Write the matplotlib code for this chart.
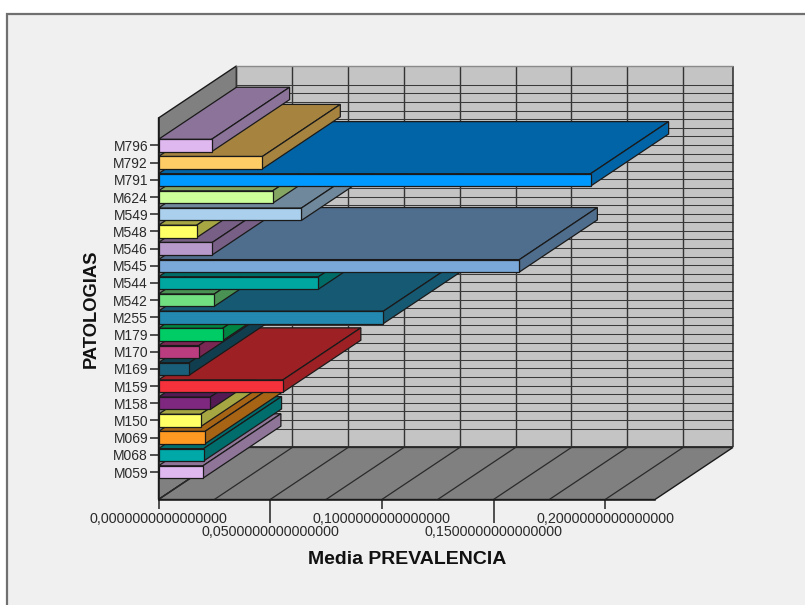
import matplotlib
matplotlib.use("Agg")
import matplotlib.pyplot as plt
from matplotlib.patches import Polygon, Rectangle

plt.rcParams['font.family'] = ['Liberation Sans', 'DejaVu Sans']

# Mean prevalence per pathology, listed from the bottom of the axis upward
categories = ["M059", "M068", "M069", "M150", "M158", "M159", "M169", "M170", "M179", "M255",
              "M542", "M544", "M545", "M546", "M548", "M549", "M624", "M791", "M792", "M796"]
values = [0.0199, 0.0202, 0.0208, 0.0189, 0.0232, 0.0557, 0.0138, 0.0181, 0.0287, 0.1007,
          0.0250, 0.0716, 0.1616, 0.0241, 0.0171, 0.0640, 0.0511, 0.1935, 0.0465, 0.0238]
front_colors = ["#E0B8F0", "#00A8A8", "#FF9922", "#FFFF66", "#7F287F", "#F5323C", "#1A5F7A",
                "#BB3D80", "#00CC66", "#2389B0", "#70E080", "#00A6A0", "#7AA8D8", "#B899CC",
                "#FFFF66", "#ABD0EE", "#CCFF99", "#0099FF", "#FFCC66", "#E0B8F0"]
shade_colors = ["#8F7699", "#006D6D", "#A66414", "#A6A642", "#531A53", "#9C2024", "#113E4F",
                "#7A2853", "#008542", "#165973", "#499253", "#006C68", "#4F6D8C", "#785F85",
                "#A6A642", "#70889B", "#85A663", "#0064A6", "#A68440", "#8C7399"]

major_ticks = [0.0, 0.10, 0.20]
major_labels = ["0,0000000000000000", "0,1000000000000000", "0,2000000000000000"]
minor_ticks = [0.05, 0.15]
minor_labels = ["0,0500000000000000", "0,1500000000000000"]
grid_step = 0.025
grid_count = 9

W, H = 805, 605
X_MAX = 0.2223
Y_MIN, Y_MAX = -1.6, 20.6
DEPTH_X = 0.0349   # oblique projection offset, in value units
DEPTH_Y = 3.03     # oblique projection offset, in category units
BAR_H = 0.72
EDGE = "#1a1a1a"
TEXT = "#2a2a2a"

fig = plt.figure(figsize=(W / 100, H / 100), dpi=100, facecolor="white")

# Grey chart panel with its dark frame, open towards the right and bottom edges
fig.patches.append(Rectangle((6.5 / W, -0.02), 1.0, 1 - 13.5 / H + 0.02, transform=fig.transFigure,
                             facecolor="#F0F0F0", edgecolor="#707070", linewidth=1.6, zorder=-1))

ax = fig.add_axes([158.5 / W, (H - 499.5) / H, 496.5 / W, 381.5 / H])
ax.patch.set_visible(False)
ax.set_xlim(0, X_MAX)
ax.set_ylim(Y_MIN, Y_MAX)


def add_poly(points, face, edge=EDGE, lw=0.9, z=1):
    ax.add_patch(Polygon(points, closed=True, facecolor=face, edgecolor=edge, linewidth=lw,
                         zorder=z, clip_on=False, joinstyle="miter"))


def add_line(xs, ys, color="#2a2a2a", lw=1.0, z=1.5):
    ax.plot(xs, ys, color=color, lw=lw, zorder=z, clip_on=False, solid_capstyle="butt")


# Back wall, side wall and floor of the 3D box
add_poly([(DEPTH_X, Y_MIN + DEPTH_Y), (X_MAX + DEPTH_X, Y_MIN + DEPTH_Y),
          (X_MAX + DEPTH_X, Y_MAX + DEPTH_Y), (DEPTH_X, Y_MAX + DEPTH_Y)], "#C4C4C4", edge="none")
add_poly([(0, Y_MIN), (0, Y_MAX), (DEPTH_X, Y_MAX + DEPTH_Y), (DEPTH_X, Y_MIN + DEPTH_Y)], "#808080",
         lw=1.0)
add_poly([(0, Y_MIN), (X_MAX, Y_MIN), (X_MAX + DEPTH_X, Y_MIN + DEPTH_Y), (DEPTH_X, Y_MIN + DEPTH_Y)],
         "#808080", lw=1.0)

# Gridlines on the back wall and floor
for k in range(grid_count):
    gx = k * grid_step
    add_line([gx + DEPTH_X] * 2, [Y_MIN + DEPTH_Y, Y_MAX + DEPTH_Y], color="#333333", lw=1.0)
    add_line([gx, gx + DEPTH_X], [Y_MIN, Y_MIN + DEPTH_Y], lw=0.9)
for k in range(2 * len(categories) + 1):
    gy = -0.5 + k / 2 + DEPTH_Y
    add_line([DEPTH_X, X_MAX + DEPTH_X], [gy, gy], color="#3a3a3a", lw=0.75)
add_line([X_MAX + DEPTH_X] * 2, [Y_MIN + DEPTH_Y, Y_MAX + DEPTH_Y], lw=1.1)
add_line([DEPTH_X, X_MAX + DEPTH_X], [Y_MAX + DEPTH_Y] * 2, color="#8a8a8a", lw=1.0)
add_line([DEPTH_X, X_MAX + DEPTH_X], [Y_MIN + DEPTH_Y] * 2, lw=1.3)

# Bars from the bottom category upward, so each one overlaps the top of the one below
for i, (val, front, shade) in enumerate(zip(values, front_colors, shade_colors)):
    z = 3 + i
    lo, hi = i - BAR_H / 2, i + BAR_H / 2
    add_poly([(0, hi), (val, hi), (val + DEPTH_X, hi + DEPTH_Y), (DEPTH_X, hi + DEPTH_Y)], shade, z=z)
    add_poly([(val, lo), (val, hi), (val + DEPTH_X, hi + DEPTH_Y), (val + DEPTH_X, lo + DEPTH_Y)], shade, z=z)
    ax.barh(i, val, height=BAR_H, color=front, edgecolor=EDGE, linewidth=0.9, zorder=z + 0.5, clip_on=False)

# Axes, ticks and labels
for side in ("top", "right"):
    ax.spines[side].set_visible(False)
for side in ("left", "bottom"):
    ax.spines[side].set_color("#1a1a1a")
    ax.spines[side].set_linewidth(1.1)
    ax.spines[side].set_zorder(40)

ax.set_yticks(range(len(categories)), categories)
ax.set_xticks(major_ticks, major_labels)
ax.set_xticks(minor_ticks, minor_labels, minor=True)
ax.tick_params(axis="y", length=6.5, width=1.1, color="#222222", pad=1, labelsize=10, labelcolor=TEXT)
ax.tick_params(axis="x", which="major", length=6.5, width=1.1, color="#222222", pad=2.4,
               labelsize=10.25, labelcolor=TEXT)
ax.tick_params(axis="x", which="minor", length=16.5, width=1.1, color="#222222", pad=1.6,
               labelsize=10.25, labelcolor=TEXT)

fig.text(407.5 / W, 1 - 559.5 / H, "Media PREVALENCIA", ha="center", va="center",
         fontsize=14, fontweight="bold", color="#111111")
fig.text(91 / W, 1 - 308.5 / H, "PATOLOGIAS", ha="center", va="center", rotation=90,
         fontsize=13.2, fontweight="bold", color="#111111")

fig.savefig("out.png", dpi=100)
